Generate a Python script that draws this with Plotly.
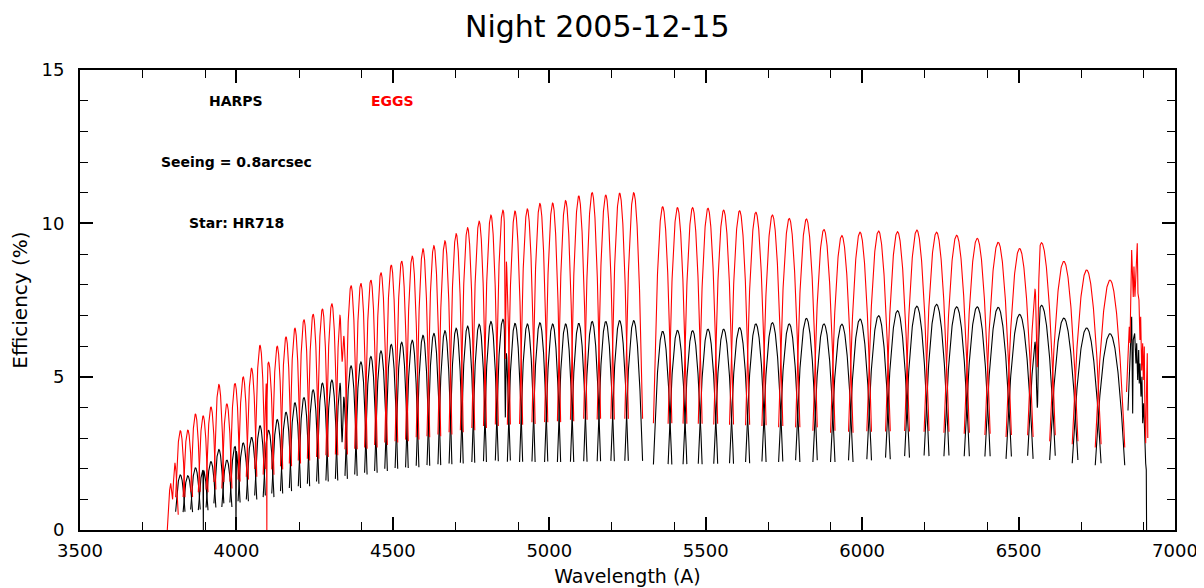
import numpy as np
import plotly.graph_objects as go

# ---------------- data ----------------
ORDER_CONST = 611300.0   # lambda_blaze * m  (Angstrom)

orders = [160, 159, 158, 157, 156, 155, 154, 153, 152, 151, 150, 149, 148, 147,
          146, 145, 144, 143, 142, 141, 140, 139, 138, 137, 136, 135, 134, 133,
          132, 131, 130, 129, 128, 127, 126, 125, 124, 123, 122, 121, 120, 119,
          118, 117, 116, 114, 113, 112, 111, 110, 109, 108, 107, 106, 105, 104,
          103, 102, 101, 100, 99, 98, 97, 96, 95, 94, 93, 92, 91, 90]

eggs_peak = [3.24, 3.26, 3.78, 3.72, 4.01, 4.75, 4.11, 4.78, 4.99, 5.27, 6.02, 5.47,
             5.99, 6.30, 6.58, 6.86, 7.04, 7.21, 7.38, 7.45, 7.97, 8.04, 8.15, 8.39,
             8.64, 8.77, 8.93, 9.17, 9.27, 9.43, 9.66, 9.86, 10.07, 10.27, 10.43,
             10.40, 10.47, 10.65, 10.66, 10.74, 10.89, 11.00, 10.92, 10.98, 11.00,
             10.54, 10.51, 10.51, 10.49, 10.43, 10.41, 10.36, 10.27, 10.16, 10.14,
             9.80, 9.60, 9.71, 9.75, 9.73, 9.78, 9.71, 9.61, 9.51, 9.38, 9.18, 9.37,
             8.76, 8.48, 8.15]

harps_peak = [1.80, 1.77, 2.03, 1.96, 2.23, 2.63, 2.28, 2.72, 2.84, 3.02, 3.40, 3.25,
              3.60, 3.84, 4.15, 4.32, 4.57, 4.79, 4.89, 5.05, 5.35, 5.48, 5.66, 5.84,
              6.05, 6.12, 6.19, 6.35, 6.41, 6.50, 6.58, 6.65, 6.71, 6.80, 6.87, 6.74,
              6.72, 6.76, 6.72, 6.72, 6.74, 6.80, 6.80, 6.83, 6.83, 6.48, 6.51, 6.50,
              6.55, 6.55, 6.60, 6.72, 6.76, 6.72, 6.90, 6.72, 6.71, 6.88, 6.99, 7.15,
              7.30, 7.36, 7.28, 7.28, 7.26, 7.03, 7.33, 6.91, 6.59, 6.40]

# stellar-line residuals: (series, order, wavelength, amplitude, width)
line_features = [
    ("harps", 157, 3894.0, -2.5, 0.4),
    ("harps", 153, 3998.6, -3.0, 0.4),
    ("eggs", 149, 4097.0, -6.0, 0.5),
    ("eggs", 141, 4337.5, -1.9, 3.0),
    ("harps", 141, 4337.5, -2.15, 2.5),
    ("eggs", 126, 4859.5, -4.1, 1.3),
    ("harps", 126, 4859.5, -2.7, 1.3),
    ("eggs", 93, 6560.0, -3.5, 3.0),
    ("harps", 93, 6560.0, -2.9, 3.0),
]

# bluest EGGS order (161)
eggs_o161_wl = [3779.0, 3783.0, 3786.5, 3790.0, 3793.0, 3796.0, 3799.0, 3803.5, 3807.0, 3811.0, 3814.0]
eggs_o161_ef = [0.0, 0.8, 1.3, 1.52, 1.25, 1.0, 1.6, 2.19, 1.9, 1.1, 0.5]

# reddest order (89), telluric O2 band
eggs_o89_wl = [6845.0, 6850.6, 6853.8, 6856.1, 6858.3, 6861.5, 6864.7, 6866.6, 6868.8,
               6872.0, 6875.2, 6879.4, 6881.6, 6884.8, 6888.0, 6890.3, 6893.5, 6896.7,
               6898.6, 6901.8, 6904.0, 6906.3, 6909.5, 6911.4, 6913.0]
eggs_o89_ef = [4.5, 6.0, 6.63, 6.1, 7.61, 9.13, 8.15, 7.6, 8.59, 7.61, 8.37, 9.35, 7.72,
               7.5, 6.2, 6.95, 5.2, 6.09, 4.89, 5.98, 3.7, 2.83, 4.89, 5.76, 3.0]
harps_o89_wl = [6849.7, 6853.8, 6858.3, 6861.5, 6864.7, 6866.6, 6871.1, 6875.2, 6877.5,
                6880.7, 6883.9, 6885.8, 6888.0, 6891.2, 6894.4, 6896.7, 6899.9, 6903.1,
                6906.3, 6908.2, 6909.2]
harps_o89_ef = [3.9, 4.89, 6.41, 6.95, 3.8, 6.2, 6.41, 5.43, 6.09, 4.89, 5.87, 4.78, 5.43,
                4.35, 5.0, 3.48, 4.13, 2.83, 2.17, 1.96, 0.0]

x_major = [3500, 4000, 4500, 5000, 5500, 6000, 6500, 7000]
x_minor = [3700, 3900, 4200, 4400, 4700, 4900, 5200, 5400, 5700, 5900, 6200, 6400, 6700, 6900]
y_major = [0, 5, 10, 15]
y_minor = [1, 2, 3, 4, 6, 7, 8, 9, 11, 12, 13, 14]

# ---------------- blaze-shaped order curves ----------------
U_END = 1.25        # order extent in units of half free spectral range
EDGE_RATIO = 0.33   # value at order end relative to peak
K_SHAPE = (1 - EDGE_RATIO) / U_END ** 2


def build_series(name, peaks, extra):
    xs, ys = [], []
    for wl, ef in extra[:1]:
        xs += list(wl) + [None]
        ys += list(ef) + [None]
    for m, pk in zip(orders, peaks):
        lc = ORDER_CONST / m
        h = lc / (2 * m)
        grid = list(np.linspace(lc - U_END * h, lc + U_END * h, 161))
        feats = [f for f in line_features if f[0] == name and f[1] == m]
        for _, _, l0, a, s in feats:
            grid += list(l0 + s * np.linspace(-5, 5, 61))
        g = np.array(sorted(v for v in grid if lc - U_END * h <= v <= lc + U_END * h))
        u = (g - lc) / h
        val = pk * (1 - K_SHAPE * u ** 2)
        for _, _, l0, a, s in feats:
            val = val + a * np.exp(-0.5 * ((g - l0) / s) ** 2)
        val = np.clip(val, 0, None)
        xs += list(g) + [None]
        ys += list(val) + [None]
    for wl, ef in extra[1:]:
        xs += list(wl) + [None]
        ys += list(ef) + [None]
    return xs, ys


hx, hy = build_series("harps", harps_peak, [([], []), (harps_o89_wl, harps_o89_ef)])
ex, ey = build_series("eggs", eggs_peak, [(eggs_o161_wl, eggs_o161_ef), (eggs_o89_wl, eggs_o89_ef)])

FONT = "DejaVu Sans"

fig = go.Figure()
fig.add_trace(go.Scatter(x=hx, y=hy, mode="lines", line=dict(color="black", width=1.1),
                         name="HARPS", connectgaps=False, hoverinfo="skip"))
fig.add_trace(go.Scatter(x=ex, y=ey, mode="lines", line=dict(color="#ff0000", width=1.1),
                         name="EGGS", connectgaps=False, hoverinfo="skip"))

ann_font = dict(family=FONT, size=14, color="black")
fig.add_annotation(x=4000, y=14, text="<b>HARPS</b>", showarrow=False, font=ann_font)
fig.add_annotation(x=4500, y=14, text="<b>EGGS</b>", showarrow=False,
                   font=dict(family=FONT, size=14, color="#ff0000"))
fig.add_annotation(x=4000, y=12, text="<b>Seeing = 0.8arcsec</b>", showarrow=False, font=ann_font)
fig.add_annotation(x=4000, y=10, text="<b>Star: HR718</b>", showarrow=False, font=ann_font)

# title as a paper-anchored annotation above the frame
fig.add_annotation(x=0.472, y=1.0, xref="paper", yref="paper", xanchor="center",
                   yanchor="bottom", yshift=24, text="Night 2005-12-15", showarrow=False,
                   font=dict(family=FONT, size=30, color="black"))

axis_common = dict(showline=True, linecolor="black", linewidth=2, mirror="ticks",
                   ticks="inside", tickcolor="black", tickwidth=1.5, ticklen=13,
                   showgrid=False, zeroline=False, automargin=False,
                   tickfont=dict(family=FONT, size=18, color="black"))

# the page adds an 8 px body margin, so the figure is 8 px smaller than the window
fig.update_layout(
    width=1196, height=580,
    margin=dict(l=72, r=29, t=62, b=58, pad=0),
    paper_bgcolor="white", plot_bgcolor="white",
    showlegend=False,
    xaxis=dict(range=[3500, 7000], tickmode="array", tickvals=x_major,
               ticktext=[str(v) for v in x_major], ticklabelstandoff=3,
               minor=dict(tickmode="array", tickvals=x_minor, ticks="inside",
                          ticklen=8, tickwidth=1.2, tickcolor="black"),
               title=dict(text="Wavelength (A)", standoff=10,
                          font=dict(family=FONT, size=19, color="black")),
               **axis_common),
    yaxis=dict(range=[0, 15], tickmode="array", tickvals=y_major,
               ticktext=[str(v) for v in y_major], ticklabelstandoff=10,
               minor=dict(tickmode="array", tickvals=y_minor, ticks="inside",
                          ticklen=8, tickwidth=1.2, tickcolor="black"),
               title=dict(text="Efficiency (%)", standoff=12,
                          font=dict(family=FONT, size=20, color="black")),
               **axis_common),
)

fig.write_html("out.html")
